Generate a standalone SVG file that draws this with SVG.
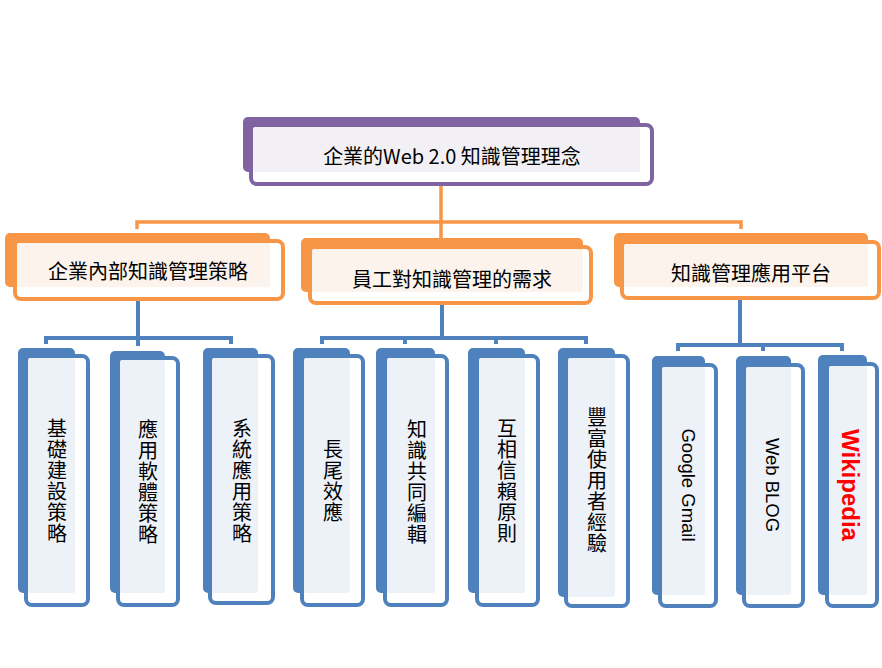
<svg xmlns="http://www.w3.org/2000/svg" width="882" height="668" viewBox="0 0 882 668">
<style>
.bp{fill:#8064a2}.fp{fill:#fff;stroke:#8064a2;stroke-width:4}.lp{fill:#f2f0f5}
.bo{fill:#f79646}.fo{fill:#fff;stroke:#f79646;stroke-width:4}.lo{fill:#fcf3ec}
.bb{fill:#4f81bd}.fb{fill:#fff;stroke:#4f81bd;stroke-width:4}.lb{fill:#edf1f8}
.t{font-family:"Noto Sans CJK TC","Liberation Sans",sans-serif;font-size:20px;fill:#000;text-anchor:middle;dominant-baseline:central}
.v{font-family:"Noto Sans CJK TC",sans-serif;font-size:20px;fill:#000;text-anchor:middle;writing-mode:vertical-rl;text-orientation:upright;letter-spacing:1px}
.r{font-family:"Liberation Sans",Arial,sans-serif;font-size:18.5px;fill:#000;text-anchor:middle;dominant-baseline:central}
.rw{font-family:"Liberation Sans",Arial,sans-serif;font-size:24px;font-weight:bold;fill:#ff0000;text-anchor:middle;dominant-baseline:central}
.co{fill:none;stroke:#f79646;stroke-width:3.5}
.cb{fill:none;stroke:#4f81bd;stroke-width:4}
</style>
<rect width="882" height="668" fill="#fff"/>
<g id="connectors">
<path class="co" d="M441,186V240M137,229V222H741V229"/>
<path class="cb" d="M138,301V346M46,344V338H231V344"/>
<path class="cb" d="M442,305V338M322,344V338H586V344M405,338V344M496,338V344"/>
<path class="cb" d="M740,300V345M678,351V345H842V351M763,345V351"/>
</g>
<g id="n0">
<rect class="bp" x="243" y="117" width="397" height="55" rx="5"/>
<rect class="fp" x="251" y="125" width="401" height="59" rx="6"/>
<rect class="lp" x="253" y="127" width="387" height="45" rx="2"/>
<text class="t" x="452" y="155" font-size="20.5">企業的Web 2.0 知識管理理念</text>
</g>
<g id="n1">
<rect class="bo" x="5" y="233" width="265" height="54" rx="5"/>
<rect class="fo" x="15" y="241" width="268" height="58" rx="6"/>
<rect class="lo" x="17" y="243" width="253" height="44" rx="2"/>
<text class="t" x="148" y="270" font-size="21">企業內部知識管理策略</text>
</g>
<g id="n2">
<rect class="bo" x="301" y="238" width="282" height="54" rx="5"/>
<rect class="fo" x="310" y="247" width="281" height="56" rx="6"/>
<rect class="lo" x="312" y="249" width="271" height="43" rx="2"/>
<text class="t" x="452" y="278" font-size="21">員工對知識管理的需求</text>
</g>
<g id="n3">
<rect class="bo" x="614" y="233" width="254" height="54" rx="5"/>
<rect class="fo" x="622" y="242" width="257" height="56" rx="6"/>
<rect class="lo" x="624" y="244" width="244" height="43" rx="2"/>
<text class="t" x="751" y="272" font-size="21">知識管理應用平台</text>
</g>
<g id="l1">
<rect class="bb" x="18" y="348" width="57" height="245" rx="5"/>
<rect class="fb" x="26" y="356" width="62" height="249" rx="6"/>
<rect class="lb" x="28" y="358" width="47" height="235" rx="2"/>
<text class="v" x="57" y="481">基礎建設策略</text>
</g>
<g id="l2">
<rect class="bb" x="110" y="351" width="55" height="242" rx="5"/>
<rect class="fb" x="118" y="358" width="60" height="247" rx="6"/>
<rect class="lb" x="120" y="360" width="45" height="233" rx="2"/>
<text class="v" x="148" y="482">應用軟體策略</text>
</g>
<g id="l3">
<rect class="bb" x="203" y="348" width="55" height="245" rx="5"/>
<rect class="fb" x="210" y="356" width="63" height="247" rx="6"/>
<rect class="lb" x="212" y="358" width="46" height="235" rx="2"/>
<text class="v" x="242" y="481">系統應用策略</text>
</g>
<g id="l4">
<rect class="bb" x="293" y="348" width="57" height="245" rx="5"/>
<rect class="fb" x="302" y="356" width="61" height="249" rx="6"/>
<rect class="lb" x="304" y="358" width="46" height="235" rx="2"/>
<text class="v" x="333" y="481">長尾效應</text>
</g>
<g id="l5">
<rect class="bb" x="376" y="348" width="59" height="245" rx="5"/>
<rect class="fb" x="385" y="356" width="62" height="249" rx="6"/>
<rect class="lb" x="387" y="358" width="48" height="235" rx="2"/>
<text class="v" x="417" y="482">知識共同編輯</text>
</g>
<g id="l6">
<rect class="bb" x="468" y="348" width="57" height="245" rx="5"/>
<rect class="fb" x="477" y="356" width="61" height="249" rx="6"/>
<rect class="lb" x="479" y="358" width="46" height="235" rx="2"/>
<text class="v" x="507" y="481">互相信賴原則</text>
</g>
<g id="l7">
<rect class="bb" x="558" y="348" width="57" height="249" rx="5"/>
<rect class="fb" x="566" y="356" width="62" height="250" rx="6"/>
<rect class="lb" x="568" y="358" width="47" height="239" rx="2"/>
<text class="v" x="597" y="481">豐富使用者經驗</text>
</g>
<g id="l8">
<rect class="bb" x="652" y="356" width="53" height="239" rx="5"/>
<rect class="fb" x="660" y="365" width="56" height="241" rx="6"/>
<rect class="lb" x="662" y="367" width="43" height="228" rx="2"/>
<text class="r" transform="translate(688,485) rotate(90)">Google Gmail</text>
</g>
<g id="l9">
<rect class="bb" x="736" y="356" width="55" height="239" rx="5"/>
<rect class="fb" x="744" y="365" width="59" height="241" rx="6"/>
<rect class="lb" x="746" y="367" width="45" height="228" rx="2"/>
<text class="r" transform="translate(772,485) rotate(90)">Web BLOG</text>
</g>
<g id="l10">
<rect class="bb" x="818" y="355" width="49" height="240" rx="5"/>
<rect class="fb" x="827" y="364" width="50" height="242" rx="6"/>
<rect class="lb" x="829" y="366" width="38" height="229" rx="2"/>
<text class="rw" transform="translate(850,485) rotate(90)">Wikipedia</text>
</g>
</svg>
